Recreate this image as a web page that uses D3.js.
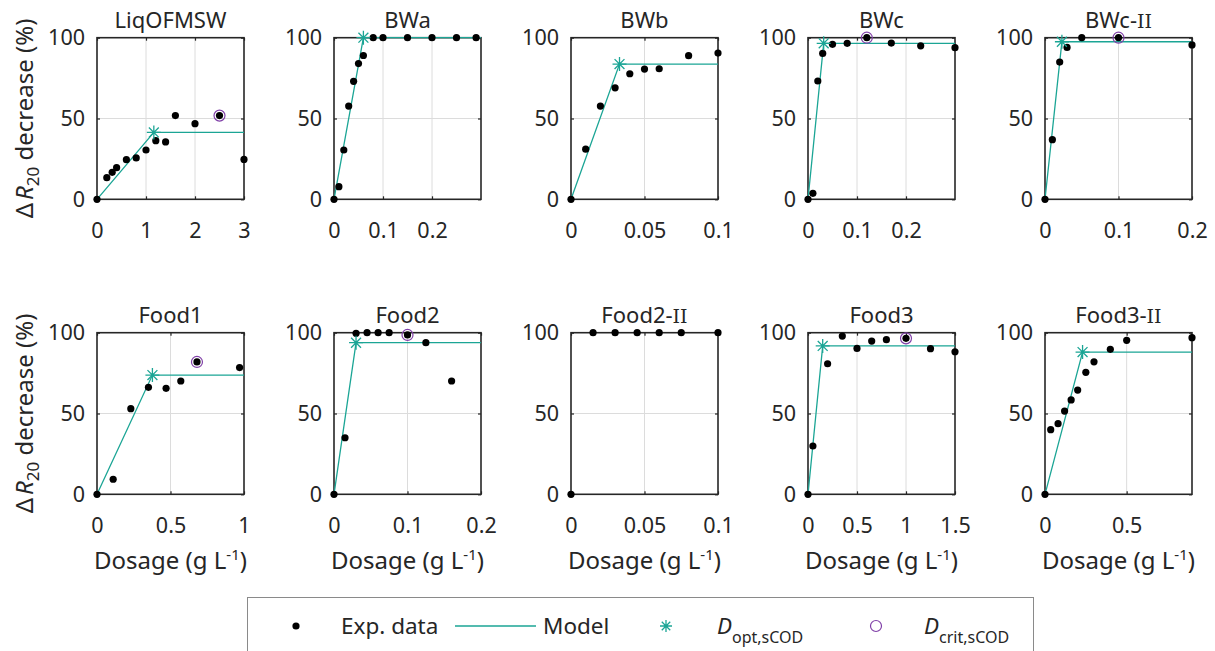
<!DOCTYPE html>
<html>
<head>
<meta charset="utf-8">
<script src="https://cdn.jsdelivr.net/npm/d3@7"></script>
<style>
  html, body { margin: 0; padding: 0; background: #fff; }
  svg { display: block; }
  text { font-family: "Noto Sans", "Open Sans", sans-serif; fill: #262626; }
</style>
</head>
<body>
<svg id="chart" width="1215" height="651"></svg>
<script>
// ---------------- data ----------------
const titles = ["LiqOFMSW", "BWa", "BWb", "BWc", "BWc-Ⅱ",
                "Food1", "Food2", "Food2-Ⅱ", "Food3", "Food3-Ⅱ"];
const xMax = [3, 0.3, 0.1, 0.3, 0.2, 1, 0.2, 0.1, 1.5, 0.9];
const xTicks = [
  [0, 1, 2, 3], [0, 0.1, 0.2], [0, 0.05, 0.1], [0, 0.1, 0.2], [0, 0.1, 0.2],
  [0, 0.5, 1], [0, 0.1, 0.2], [0, 0.05, 0.1], [0, 0.5, 1, 1.5], [0, 0.5]
];
const yTicks = [0, 50, 100];

const expX = [
  [0, 0.2, 0.31, 0.4, 0.6, 0.8, 1.0, 1.2, 1.4, 1.6, 2.0, 2.5, 3.0],
  [0, 0.01, 0.02, 0.03, 0.04, 0.05, 0.06, 0.08, 0.1, 0.15, 0.2, 0.25, 0.29],
  [0, 0.01, 0.02, 0.03, 0.04, 0.05, 0.06, 0.08, 0.1],
  [0, 0.01, 0.02, 0.03, 0.05, 0.08, 0.12, 0.17, 0.23, 0.3],
  [0, 0.01, 0.02, 0.03, 0.05, 0.1, 0.2],
  [0, 0.11, 0.23, 0.35, 0.47, 0.57, 0.68, 0.97],
  [0, 0.015, 0.03, 0.045, 0.06, 0.075, 0.1, 0.125, 0.16],
  [0, 0.015, 0.03, 0.045, 0.06, 0.075, 0.1],
  [0, 0.05, 0.2, 0.35, 0.5, 0.65, 0.8, 1.0, 1.25, 1.5],
  [0, 0.035, 0.08, 0.12, 0.16, 0.2, 0.25, 0.3, 0.4, 0.5, 0.9]
];
const expY = [
  [0, 13.4, 16.7, 19.6, 24.5, 25.6, 30.5, 36.3, 35.5, 51.8, 46.8, 51.8, 24.7],
  [0, 7.8, 30.5, 57.7, 73, 84, 89, 100, 100, 100, 100, 100, 100],
  [0, 31, 57.7, 69, 77.7, 80.6, 80.8, 88.9, 90.5],
  [0, 3.7, 73.2, 90.3, 95.9, 96.5, 100, 96.7, 95, 93.8],
  [0, 36.9, 84.9, 94, 100, 100, 95.5],
  [0, 9.3, 53, 66.2, 65.6, 70.1, 81.9, 78.4],
  [0, 35, 99.6, 100, 100, 100, 98.6, 93.8, 70.1],
  [0, 100, 100, 100, 100, 100, 100],
  [0, 29.9, 80.8, 97.9, 90.3, 94.8, 95.7, 96.5, 90.1, 88.2],
  [0, 40, 43.7, 51.5, 58.4, 64.5, 75.5, 82, 89.7, 95.3, 96.9]
];
// optimal dosage (model breakpoint) [x, y]; null = no model
const optPoint = [
  [1.16, 41.4], [0.06, 100], [0.033, 83.7], [0.032, 96.5], [0.023, 97.5],
  [0.377, 73.8], [0.03, 93.8], null, [0.15, 91.8], [0.23, 88]
];
// critical dosage [x, y]; null = none
const critPoint = [
  [2.5, 51.8], null, null, [0.12, 100], [0.1, 100],
  [0.68, 81.9], [0.1, 98.6], null, [1.0, 96.5], null
];

// ---------------- layout ----------------
const teal = "#1ba595";
const purple = "#8040a8";
const axisCol = "#262626";
const panelW = 147, panelH = 161.6;
const left0 = 97, stepX = 237;
const rowTop = [37.7, 332.7];
const tickFont = "21.5px", titleFont = "22px", labelFont = "24px", legFont = "22.5px";

const svg = d3.select("#chart");

function starPath(cx, cy, s) {
  const d = s * 0.7071;
  return `M${cx - s},${cy}L${cx + s},${cy}M${cx},${cy - s}L${cx},${cy + s}` +
         `M${cx - d},${cy - d}L${cx + d},${cy + d}M${cx - d},${cy + d}L${cx + d},${cy - d}`;
}

function addTitle(sel, title) {
  const parts = title.split("Ⅱ");
  sel.append("tspan").text(parts[0]);
  if (parts.length > 1) {
    sel.append("tspan").style("font-family", '"DejaVu Serif", serif')
      .style("font-size", "19px").text("II");
  }
}

titles.forEach((title, i) => {
  const row = Math.floor(i / 5), col = i % 5;
  const ox = left0 + col * stepX, oy = rowTop[row];
  const g = svg.append("g").attr("transform", `translate(${ox},${oy})`);
  const x = d3.scaleLinear().domain([0, xMax[i]]).range([0, panelW]);
  const y = d3.scaleLinear().domain([0, 100]).range([panelH, 0]);

  // grid
  g.append("g").selectAll("line")
    .data(xTicks[i].filter(t => t > 0 && t < xMax[i] - 1e-9))
    .join("line")
    .attr("x1", d => x(d)).attr("x2", d => x(d))
    .attr("y1", 0).attr("y2", panelH)
    .attr("stroke", "#dcdcdc").attr("stroke-width", 1);
  g.append("g").selectAll("line")
    .data(yTicks.filter(t => t > 0 && t < 100))
    .join("line")
    .attr("x1", 0).attr("x2", panelW)
    .attr("y1", d => y(d)).attr("y2", d => y(d))
    .attr("stroke", "#dcdcdc").attr("stroke-width", 1);

  // axes (inward ticks, box)
  const fmt = d => String(+d.toFixed(3));
  const ax = g.append("g").attr("transform", `translate(0,${panelH})`)
    .call(d3.axisBottom(x).tickValues(xTicks[i]).tickSize(-3).tickPadding(23).tickFormat(fmt));
  const axTop = g.append("g")
    .call(d3.axisTop(x).tickValues(xTicks[i]).tickSize(-3).tickFormat(""));
  const ay = g.append("g")
    .call(d3.axisLeft(y).tickValues(yTicks).tickSize(-3).tickPadding(12).tickFormat(d3.format("d")));
  const ayR = g.append("g").attr("transform", `translate(${panelW},0)`)
    .call(d3.axisRight(y).tickValues(yTicks).tickSize(-3).tickFormat(""));
  [ax, axTop, ay, ayR].forEach(a => {
    a.select(".domain").remove();
    a.selectAll(".tick line").attr("stroke", axisCol).attr("stroke-width", 1.2);
    a.selectAll(".tick text").style("font-size", tickFont)
      .style("font-family", '"Noto Sans", sans-serif').attr("fill", axisCol);
  });
  g.append("rect").attr("x", 0).attr("y", 0).attr("width", panelW).attr("height", panelH)
    .attr("fill", "none").attr("stroke", axisCol).attr("stroke-width", 1.6);

  // title
  const tt = g.append("text").attr("x", panelW / 2).attr("y", -10)
    .attr("text-anchor", "middle").style("font-size", titleFont);
  addTitle(tt, title);

  // model line
  const op = optPoint[i];
  if (op) {
    const model = [[0, 0], op, [xMax[i], op[1]]];
    g.append("path").datum(model)
      .attr("d", d3.line().x(d => x(d[0])).y(d => y(d[1])))
      .attr("fill", "none").attr("stroke", teal).attr("stroke-width", 1.3);
  }

  // experimental data
  g.append("g").selectAll("circle")
    .data(expX[i].map((v, k) => [v, expY[i][k]]))
    .join("circle")
    .attr("cx", d => x(d[0])).attr("cy", d => y(d[1])).attr("r", 3.6)
    .attr("fill", "#000");

  // opt star
  if (op) {
    g.append("path").attr("d", starPath(x(op[0]), y(op[1]), 7))
      .attr("stroke", teal).attr("stroke-width", 1.3).attr("fill", "none");
  }
  // crit circle
  const cp = critPoint[i];
  if (cp) {
    g.append("circle").attr("cx", x(cp[0])).attr("cy", y(cp[1])).attr("r", 5.5)
      .attr("fill", "none").attr("stroke", purple).attr("stroke-width", 1.2);
  }

  // y label on first column
  if (col === 0) {
    const t = g.append("text")
      .attr("transform", `translate(${-64},${panelH / 2}) rotate(-90)`)
      .attr("text-anchor", "middle").style("font-size", labelFont);
    t.append("tspan").text("Δ");
    t.append("tspan").attr("dx", 3).style("font-style", "italic").text("R");
    t.append("tspan").attr("dy", 6).style("font-size", "17px").text("20");
    t.append("tspan").attr("dy", -6).text(" decrease (%)");
  }
  // x label on bottom row
  if (row === 1) {
    const t = g.append("text").attr("x", panelW / 2).attr("y", panelH + 75)
      .attr("text-anchor", "middle").style("font-size", labelFont);
    t.append("tspan").text("Dosage (g L");
    t.append("tspan").attr("dy", -9).style("font-size", "15px").text("-1");
    t.append("tspan").attr("dy", 9).text(")");
  }
});

// ---------------- legend ----------------
const lg = svg.append("g");
lg.append("rect").attr("x", 247.5).attr("y", 597.5).attr("width", 786).attr("height", 80)
  .attr("fill", "#fff").attr("stroke", "#8a8a8a").attr("stroke-width", 1);
const ly = 626;
lg.append("circle").attr("cx", 296).attr("cy", ly).attr("r", 3.6).attr("fill", "#000");
lg.append("text").attr("x", 341).attr("y", ly + 8).style("font-size", legFont).text("Exp. data");
lg.append("line").attr("x1", 455).attr("x2", 536).attr("y1", ly).attr("y2", ly)
  .attr("stroke", teal).attr("stroke-width", 1.3);
lg.append("text").attr("x", 543).attr("y", ly + 8).style("font-size", legFont).text("Model");
lg.append("path").attr("d", starPath(666, ly, 6)).attr("stroke", teal)
  .attr("stroke-width", 1.3).attr("fill", "none");
const t1 = lg.append("text").attr("x", 717).attr("y", ly + 8).style("font-size", legFont);
t1.append("tspan").style("font-style", "italic").text("D");
t1.append("tspan").attr("dy", 9).style("font-size", "16px").text("opt,sCOD");
lg.append("circle").attr("cx", 876).attr("cy", ly).attr("r", 5.5)
  .attr("fill", "none").attr("stroke", purple).attr("stroke-width", 1.2);
const t2 = lg.append("text").attr("x", 924).attr("y", ly + 8).style("font-size", legFont);
t2.append("tspan").style("font-style", "italic").text("D");
t2.append("tspan").attr("dy", 9).style("font-size", "16px").text("crit,sCOD");
</script>
</body>
</html>
